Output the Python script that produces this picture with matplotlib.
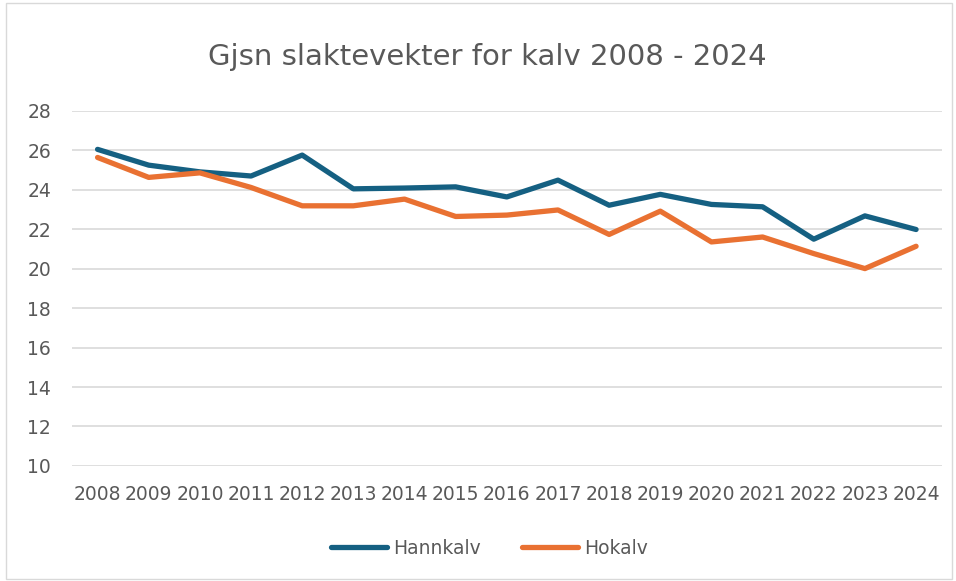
import matplotlib
matplotlib.use('Agg')
import matplotlib.pyplot as plt
from matplotlib.patches import Rectangle

years = ['2008', '2009', '2010', '2011', '2012', '2013', '2014', '2015', '2016',
         '2017', '2018', '2019', '2020', '2021', '2022', '2023', '2024']
hannkalv = [26.04, 25.24, 24.9, 24.69, 25.75, 24.04, 24.08, 24.14, 23.63,
            24.48, 23.21, 23.76, 23.25, 23.13, 21.49, 22.67, 21.98]
hokalv = [25.63, 24.62, 24.85, 24.11, 23.18, 23.18, 23.52, 22.64, 22.71,
          22.97, 21.73, 22.91, 21.35, 21.6, 20.76, 20.0, 21.13]
y_ticks = [10, 12, 14, 16, 18, 20, 22, 24, 26, 28]

plt.rcParams['font.family'] = ['DejaVu Sans']
text_color = '#595959'

fig = plt.figure(figsize=(9.56, 5.81), dpi=100)
fig.patches.append(Rectangle((0.006, 0.004), 0.99, 0.99, transform=fig.transFigure,
                             fill=False, edgecolor='#d9d9d9', linewidth=1))
ax = fig.add_axes([0.0753, 0.198, 0.9097, 0.6115])

x = list(range(len(years)))
ax.plot(x, hannkalv, color='#156082', linewidth=3.8, solid_capstyle='round',
        solid_joinstyle='round', label='Hannkalv', zorder=3)
ax.plot(x, hokalv, color='#E97132', linewidth=3.8, solid_capstyle='round',
        solid_joinstyle='round', label='Hokalv', zorder=3)

ax.set_xlim(-0.5, len(years) - 0.5)
ax.set_ylim(10, 28)
ax.set_yticks(y_ticks)
ax.set_xticks(x)
ax.set_xticklabels(years)
ax.grid(axis='y', color='#d9d9d9', linewidth=1.2)
ax.set_axisbelow(True)
for s in ax.spines.values():
    s.set_visible(False)
ax.tick_params(length=0, labelsize=13.5, colors=text_color, pad=14)
ax.tick_params(axis='y', pad=15)

fig.text(0.51, 0.902, 'Gjsn slaktevekter for kalv 2008 - 2024', ha='center', va='center',
         fontsize=21, color=text_color)

leg = fig.legend(loc='center', bbox_to_anchor=(0.512, 0.056), ncol=2, frameon=False,
                 fontsize=13.5, handlelength=3.0, handletextpad=0.3, columnspacing=2.2)
for t in leg.get_texts():
    t.set_color(text_color)

fig.savefig('out.png', dpi=100)
